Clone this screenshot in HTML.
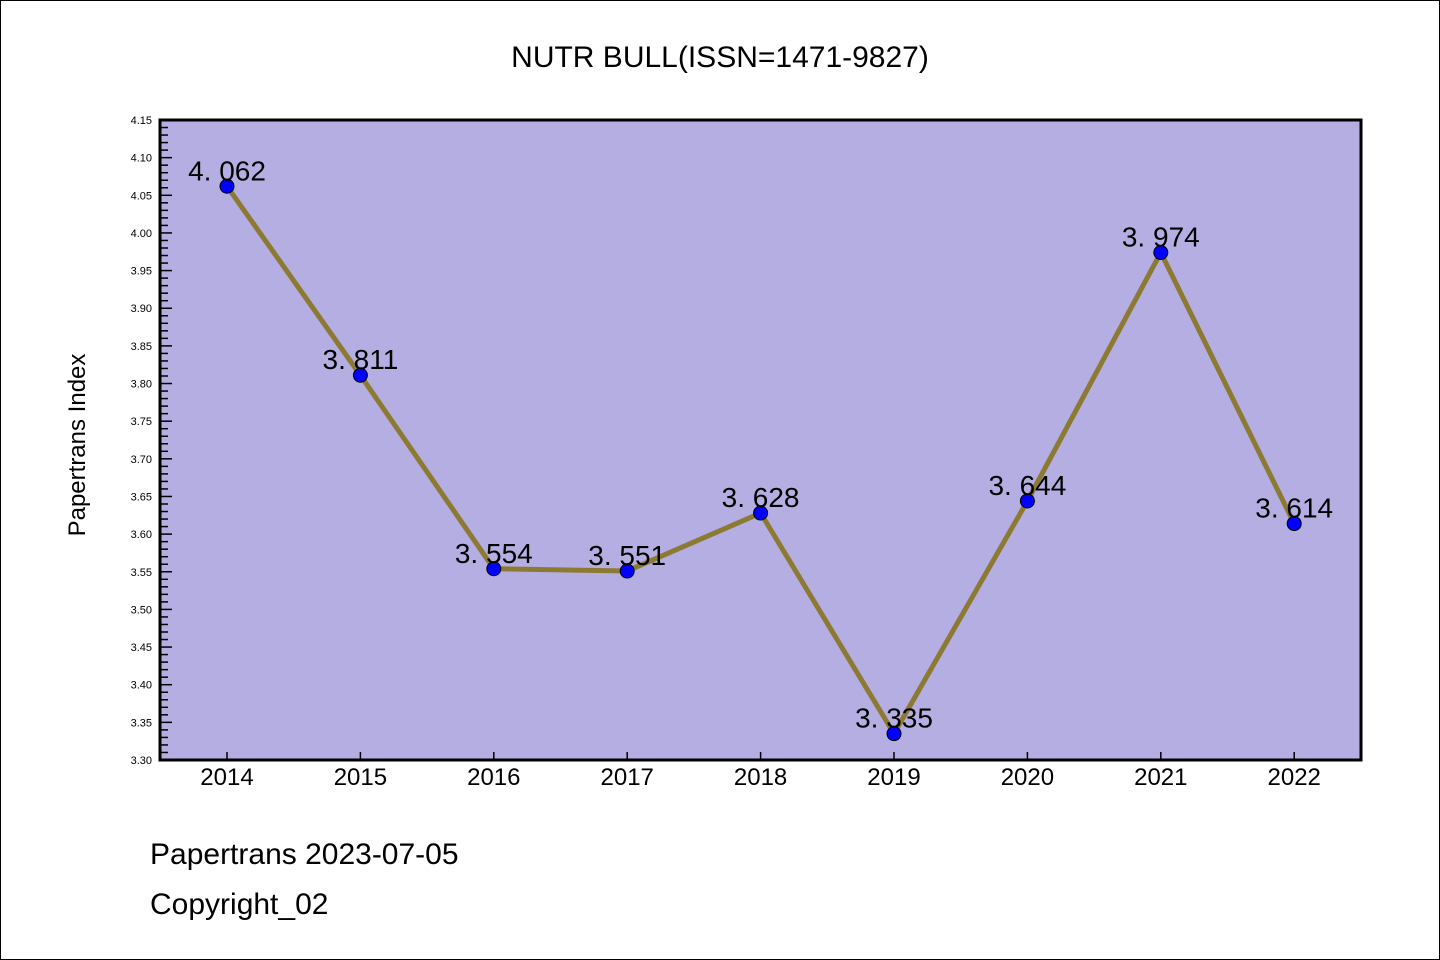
<!DOCTYPE html>
<html><head><meta charset="utf-8"><style>
body{margin:0;background:#fff}
svg{display:block}
text{font-family:"WenQuanYi Zen Hei","Liberation Sans",sans-serif}
</style></head><body>
<svg id="c" width="1440" height="960">
<rect x="0.5" y="0.5" width="1439" height="959" fill="#fff" stroke="#000"/>
<text x="720" y="67" font-size="30" text-anchor="middle">NUTR BULL(ISSN=1471-9827)</text>
<rect x="160" y="120" width="1201" height="640" fill="#b5aee2"/>
<g id="ticks"></g>
<g id="marks"></g>
<rect x="160" y="120" width="1201" height="640" fill="none" stroke="#000" stroke-width="3"/>
<text transform="translate(85,445) rotate(-90)" font-size="24" text-anchor="middle">Papertrans Index</text>
<text x="150" y="864" font-size="30">Papertrans 2023-07-05</text>
<text x="150" y="914" font-size="30">Copyright_02</text>
</svg>
<script>
const years=["2014","2015","2016","2017","2018","2019","2020","2021","2022"];
const values=[4.062,3.811,3.554,3.551,3.628,3.335,3.644,3.974,3.614];
const yTicks=["3.30","3.35","3.40","3.45","3.50","3.55","3.60","3.65","3.70","3.75","3.80","3.85","3.90","3.95","4.00","4.05","4.10","4.15"];
const NS="http://www.w3.org/2000/svg";
const y=v=>760-(v-3.30)/(4.15-3.30)*640;
const x=i=>227+i*133.4;
function mk(t,a,p){const e=document.createElementNS(NS,t);for(const k in a)e.setAttribute(k,a[k]);p.appendChild(e);return e;}
const tg=document.getElementById('ticks'),mg=document.getElementById('marks');
for(let k=0;k<=85;k++){const v=3.30+k*0.01;const major=k%5===0;
 const l=mk('line',{x1:160,x2:160+(major?12:8),y1:y(v),y2:y(v),stroke:'#000','stroke-width':1.5},tg);
 
 }
yTicks.forEach(s=>{const t=mk('text',{x:152,y:y(+s)+4,'font-size':11,'text-anchor':'end'},tg);t.textContent=s;
 
 });
years.forEach((s,i)=>{const l=mk('line',{x1:x(i),x2:x(i),y1:760,y2:752,stroke:'#000','stroke-width':1.5},tg);
 
 
 const t=mk('text',{x:x(i),y:785,'font-size':24,'text-anchor':'middle'},tg);t.textContent=s;
 
 });
const pl=mk('polyline',{points:values.map((v,i)=>x(i)+','+y(v)).join(' '),fill:'none',stroke:'#8c7a32','stroke-width':5},mg);


values.forEach((v,i)=>{const c=mk('circle',{cx:x(i),cy:y(v),r:7,fill:'#0000ff',stroke:'#000','stroke-width':1},mg);
 
 
 const t=mk('text',{x:x(i),y:y(v)-6,'font-size':28,'text-anchor':'middle'},mg);t.textContent=v.toFixed(3).replace('.','. ');
 
 });
</script>
</body></html>
